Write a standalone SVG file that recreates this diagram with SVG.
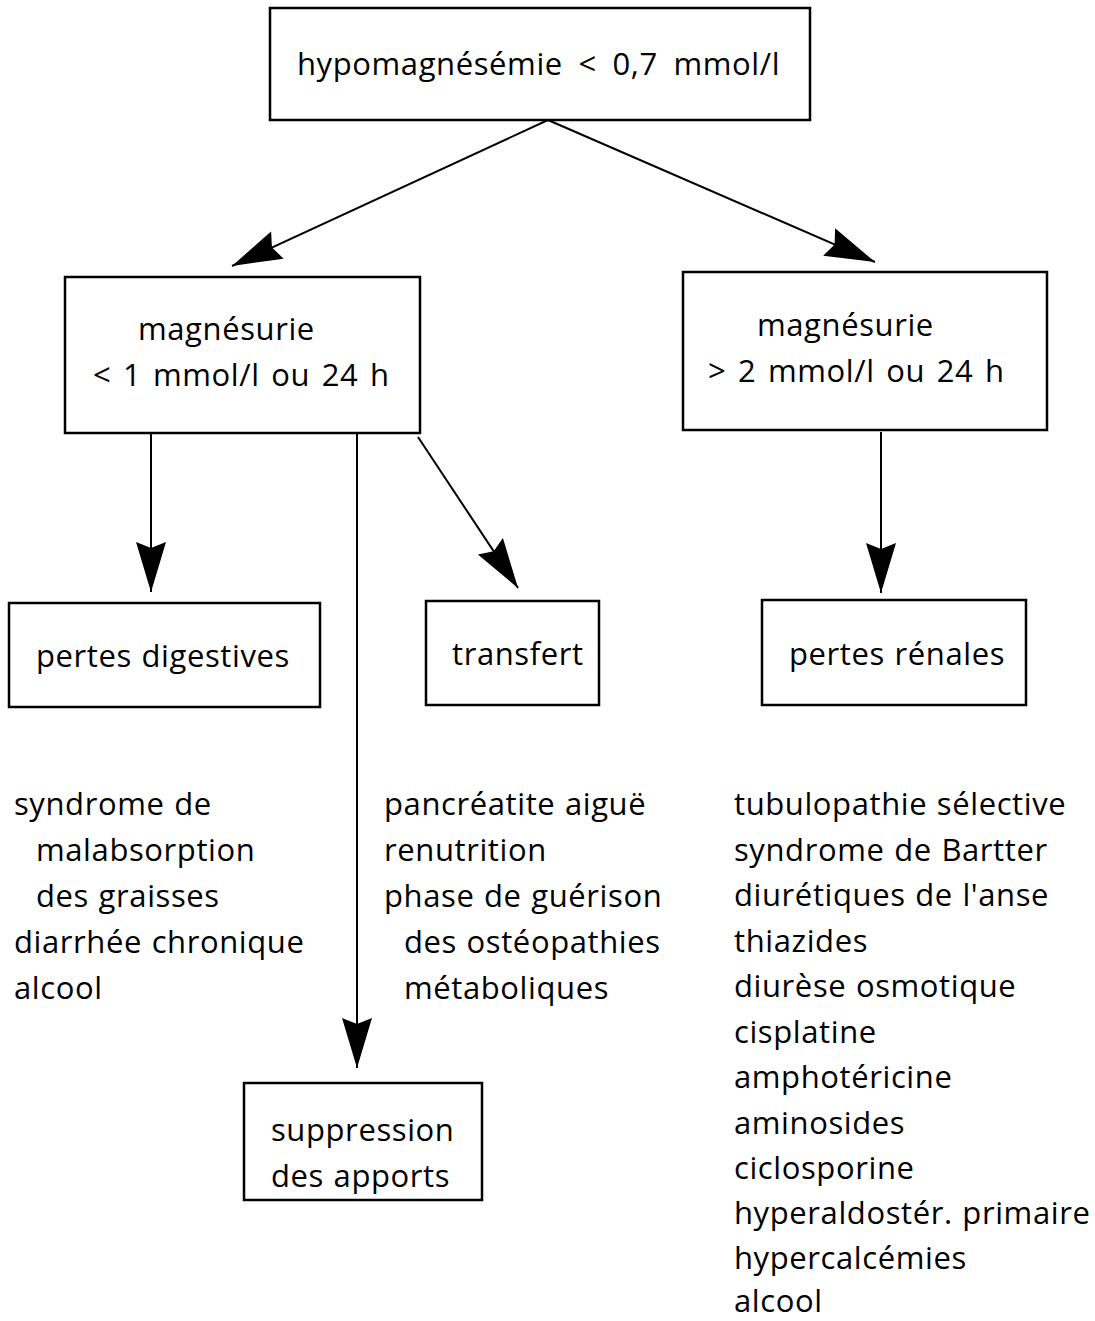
<svg xmlns="http://www.w3.org/2000/svg" width="1095" height="1321" viewBox="0 0 1095 1321">
<style>
.box{fill:#fff;stroke:#000;stroke-width:2.5}
.t{font-family:"Open Sans","Liberation Sans",sans-serif;font-size:31px;letter-spacing:0.6px;word-spacing:1px;fill:#000}
.c{stroke:#000;stroke-width:2;fill:none}
</style>
<defs>
<marker id="ah" markerUnits="userSpaceOnUse" markerWidth="60" markerHeight="40" viewBox="-55 -20 60 40" refX="0" refY="0" orient="auto">
<path d="M0,0 L-50,-15 L-44,0 L-50,15 Z" fill="#000"/>
</marker>
</defs>
<rect width="1095" height="1321" fill="#fff"/>
<g id="connectors">
<line class="c" x1="548" y1="120" x2="232" y2="266" marker-end="url(#ah)"/>
<line class="c" x1="548" y1="120" x2="875" y2="262" marker-end="url(#ah)"/>
<line class="c" x1="151" y1="433" x2="151" y2="592" marker-end="url(#ah)"/>
<line class="c" x1="357" y1="433" x2="357" y2="1068" marker-end="url(#ah)"/>
<line class="c" x1="418" y1="437" x2="518" y2="588" marker-end="url(#ah)"/>
<line class="c" x1="881" y1="432" x2="881" y2="593" marker-end="url(#ah)"/>
</g>
<g id="n_hypo">
<rect class="box" x="270" y="8" width="540" height="112"/>
<text class="t" x="297" y="75" style="word-spacing:7px">hypomagnésémie &lt; 0,7 mmol/l</text>
</g>
<g id="n_low">
<rect class="box" x="65" y="277" width="355" height="156"/>
<text class="t" x="138" y="340">magnésurie</text>
<text class="t" x="93" y="386" style="word-spacing:3px">&lt; 1 mmol/l ou 24 h</text>
</g>
<g id="n_high">
<rect class="box" x="683" y="272" width="364" height="158"/>
<text class="t" x="757" y="336">magnésurie</text>
<text class="t" x="708" y="382" style="word-spacing:3px">&gt; 2 mmol/l ou 24 h</text>
</g>
<g id="n_digest">
<rect class="box" x="9" y="603" width="311" height="104"/>
<text class="t" x="36" y="667">pertes digestives</text>
</g>
<g id="n_transfert">
<rect class="box" x="426" y="601" width="173" height="104"/>
<text class="t" x="452" y="665">transfert</text>
</g>
<g id="n_renal">
<rect class="box" x="762" y="600" width="264" height="105"/>
<text class="t" x="789" y="665">pertes rénales</text>
</g>
<g id="n_suppr">
<rect class="box" x="244" y="1083" width="238" height="117"/>
<text class="t" x="271" y="1141">suppression</text>
<text class="t" x="271" y="1187">des apports</text>
</g>
<g id="list_digest">
<text class="t" x="14" y="815">syndrome de</text>
<text class="t" x="36" y="861">malabsorption</text>
<text class="t" x="36" y="907">des graisses</text>
<text class="t" x="14" y="953">diarrhée chronique</text>
<text class="t" x="14" y="999">alcool</text>
</g>
<g id="list_transfert">
<text class="t" x="384" y="815">pancréatite aiguë</text>
<text class="t" x="384" y="861">renutrition</text>
<text class="t" x="384" y="907">phase de guérison</text>
<text class="t" x="404" y="953">des ostéopathies</text>
<text class="t" x="404" y="999">métaboliques</text>
</g>
<g id="list_renal">
<text class="t" x="734" y="815">tubulopathie sélective</text>
<text class="t" x="734" y="861">syndrome de Bartter</text>
<text class="t" x="734" y="906">diurétiques de l'anse</text>
<text class="t" x="734" y="952">thiazides</text>
<text class="t" x="734" y="997">diurèse osmotique</text>
<text class="t" x="734" y="1043">cisplatine</text>
<text class="t" x="734" y="1088">amphotéricine</text>
<text class="t" x="734" y="1134">aminosides</text>
<text class="t" x="734" y="1179">ciclosporine</text>
<text class="t" x="734" y="1224">hyperaldostér. primaire</text>
<text class="t" x="734" y="1269">hypercalcémies</text>
<text class="t" x="734" y="1312">alcool</text>
</g>
</svg>
